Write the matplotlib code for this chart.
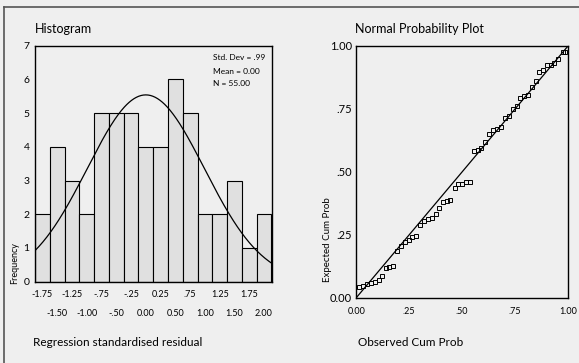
import numpy as np
import matplotlib
matplotlib.use("Agg")
import matplotlib.pyplot as plt
from matplotlib.lines import Line2D

plt.rcParams["font.family"] = ["Lato", "DejaVu Sans"]

# histogram of standardised residuals
bin_centers = [-1.75, -1.50, -1.25, -1.00, -0.75, -0.50, -0.25, 0.00,
               0.25, 0.50, 0.75, 1.00, 1.25, 1.50, 1.75, 2.00]
counts = [2, 4, 3, 2, 5, 5, 5, 4, 4, 6, 5, 2, 2, 3, 1, 2]
tick_row1 = [-1.75, -1.25, -0.75, -0.25, 0.25, 0.75, 1.25, 1.75]
labels_row1 = ["-1.75", "-1.25", "-.75", "-.25", "0.25", ".75", "1.25", "1.75"]
tick_row2 = [-1.50, -1.00, -0.50, 0.00, 0.50, 1.00, 1.50, 2.00]
labels_row2 = ["-1.50", "-1.00", "-.50", "0.00", "0.50", "1.00", "1.50", "2.00"]
std_dev = 0.99
mean = 0.00
n_obs = 55

# P-P plot
observed_cum = [0.013, 0.030, 0.049, 0.068, 0.086, 0.105, 0.123, 0.140, 0.156, 0.173,
                0.190, 0.209, 0.228, 0.247, 0.265, 0.284, 0.303, 0.322, 0.341, 0.358,
                0.375, 0.391, 0.410, 0.427, 0.444, 0.465, 0.482, 0.499, 0.518, 0.535,
                0.556, 0.573, 0.590, 0.609, 0.626, 0.645, 0.664, 0.683, 0.702, 0.719,
                0.738, 0.757, 0.774, 0.791, 0.810, 0.829, 0.848, 0.862, 0.881, 0.899,
                0.918, 0.936, 0.954, 0.975, 0.987]
expected_cum = [0.044, 0.048, 0.053, 0.057, 0.063, 0.070, 0.085, 0.117, 0.122, 0.126,
                0.187, 0.207, 0.223, 0.231, 0.241, 0.245, 0.288, 0.305, 0.313, 0.318,
                0.334, 0.355, 0.379, 0.385, 0.389, 0.435, 0.451, 0.451, 0.458, 0.459,
                0.584, 0.588, 0.593, 0.619, 0.650, 0.667, 0.672, 0.680, 0.712, 0.722,
                0.749, 0.760, 0.794, 0.802, 0.805, 0.837, 0.861, 0.896, 0.906, 0.924,
                0.926, 0.934, 0.948, 0.975, 0.977]
pp_ticks = [0.0, 0.25, 0.5, 0.75, 1.0]
pp_labels = ["0.00", ".25", ".50", ".75", "1.00"]

bg = "#efefef"
W, H = 579, 363
fig = plt.figure(figsize=(W / 100, H / 100), dpi=100, facecolor=bg)


def fx(px):
    return px / W


def fy(py):
    return 1 - py / H


# outer frame (only top and left edges visible)
fig.add_artist(Line2D([fx(4), 1], [fy(7), fy(7)], color="#555555", lw=1.2))
fig.add_artist(Line2D([fx(4), fx(4)], [fy(7), 0], color="#555555", lw=1.2))

# ---- histogram ----
ax1 = fig.add_axes([fx(35), fy(281.7), fx(271.7 - 35), (281.7 - 45.7) / H])
ax1.set_facecolor(bg)
ax1.bar(bin_centers, counts, width=0.25, color="#e0e0e0", edgecolor="black", linewidth=0.8)
xs = np.linspace(-1.875, 2.125, 300)
bw = bin_centers[1] - bin_centers[0]
curve = n_obs * bw / (std_dev * np.sqrt(2 * np.pi)) * np.exp(-0.5 * ((xs - mean) / std_dev) ** 2)
ax1.plot(xs, curve, color="black", lw=0.9)
ax1.set_xlim(-1.875, 2.13)
ax1.set_ylim(0, 7)
ax1.set_yticks(range(8))
ax1.set_xticks(tick_row1)
ax1.set_xticklabels(labels_row1)
ax1.set_xticks(tick_row2, minor=True)
ax1.set_xticklabels(labels_row2, minor=True)
ax1.tick_params(axis="y", length=0, pad=4, labelsize=7.5)
ax1.tick_params(axis="x", which="major", length=0, pad=6, labelsize=6.5)
ax1.tick_params(axis="x", which="minor", length=0, pad=20, labelsize=6.5)
for s in ax1.spines.values():
    s.set_linewidth(1.0)

fig.text(fx(213), fy(58), "Std. Dev = .99", fontsize=6, va="center", ha="left")
fig.text(fx(213), fy(71), "Mean = 0.00", fontsize=6, va="center", ha="left")
fig.text(fx(213), fy(84), "N = 55.00", fontsize=6, va="center", ha="left")

fig.text(fx(35), fy(33), "Histogram", fontsize=9, ha="left", va="baseline")
fig.text(fx(15), fy(284), "Frequency", fontsize=6.5, rotation=90, ha="center", va="bottom")
fig.text(fx(33), fy(346), "Regression standardised residual", fontsize=8.5, ha="left", va="baseline")

# ---- normal probability plot ----
ax2 = fig.add_axes([fx(356.3), fy(297.7), fx(568 - 356.3), (297.7 - 46) / H])
ax2.set_facecolor(bg)
ax2.plot([0, 1], [0, 1], color="black", lw=0.9)
ax2.plot(observed_cum, expected_cum, linestyle="none", marker="s", markersize=3,
         markerfacecolor="none", markeredgecolor="black", markeredgewidth=0.7)
ax2.set_xlim(0, 1)
ax2.set_ylim(0, 1)
ax2.set_xticks(pp_ticks)
ax2.set_xticklabels(pp_labels)
ax2.set_yticks(pp_ticks)
ax2.set_yticklabels(pp_labels)
ax2.tick_params(axis="y", length=0, pad=3, labelsize=8)
ax2.tick_params(axis="x", length=0, pad=7, labelsize=6.5)
for s in ax2.spines.values():
    s.set_linewidth(1.0)

fig.text(fx(355), fy(33), "Normal Probability Plot", fontsize=9, ha="left", va="baseline")
fig.text(fx(327), fy(240), "Expected Cum Prob", fontsize=7, rotation=90, ha="center", va="center")
fig.text(fx(358), fy(346), "Observed Cum Prob", fontsize=8.5, ha="left", va="baseline")

fig.savefig("out.png", dpi=100, facecolor=bg)
